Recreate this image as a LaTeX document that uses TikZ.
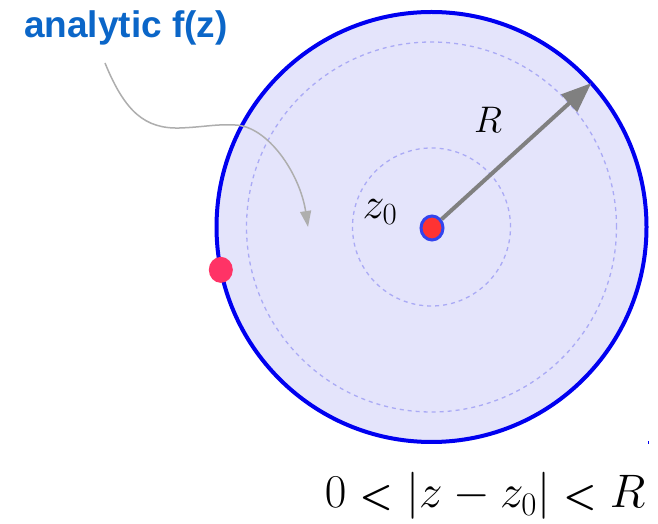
\RequirePackage{fix-cm}
\documentclass[tikz,border=0pt]{standalone}
\usepackage{amsmath,bm}
\usepackage{fontspec}
\newfontfamily\labelfont{Liberation Sans}
\usetikzlibrary{arrows.meta,shapes.geometric}
\definecolor{discfill}{HTML}{E4E4FB}
\definecolor{discblue}{HTML}{0000F0}
\definecolor{discring}{HTML}{3344EE}
\definecolor{discdash}{HTML}{AAAAF5}
\definecolor{discgray}{HTML}{808080}
\definecolor{disclabel}{HTML}{0B66C8}
\definecolor{discred}{HTML}{FF3333}
\definecolor{discpink}{HTML}{FF3366}
\definecolor{disccurve}{HTML}{AEAEAE}
\newcommand{\smallless}{\mathrel{\scalebox{.8}{$\bm{<}$}}}

\begin{document}
\begin{tikzpicture}[x=1pt,y=1pt,
  dashring/.style={draw=discdash,line width=1.3pt,dash pattern=on 4pt off 4pt},
  spot/.style={ellipse,inner sep=0pt,minimum width=24pt,minimum height=26pt},
  mathlab/.style={font=\fontsize{37}{40}\selectfont,inner sep=0pt},
  >={Triangle[length=30pt,width=23pt]}]
\useasboundingbox[fill=white] (0,0) rectangle (658,524);
\coordinate (c) at (431.5,297);
% disc and its rings
\draw[discblue,line width=4pt,fill=discfill] (c) circle[radius=215pt];
\draw[dashring] (c) circle[radius=185pt];
\draw[dashring] (c) circle[radius=79pt];
\path (c) ++(42:215pt) coordinate (rtip);
\path (c) ++(191.5:215pt) coordinate (edge);
% centre and radius
\node[spot,fill=discred,draw=discring,line width=3pt,minimum width=22pt,minimum height=24pt] (zdot) at (432,296) {};
\draw[discgray,line width=4pt,->] (zdot) -- (rtip);
\node[spot,fill=discpink] (edgedot) at (edge) {};
\node[mathlab] (rlab) at (488,404) {$R$};
\node[mathlab,font=\fontsize{44}{48}\selectfont] (zlab) at (380,312) {$z_0$};
% label and its pointer
\node[font=\labelfont\bfseries\fontsize{37}{40}\selectfont,text=disclabel,inner sep=0pt] (lbl) at (126,496) {analytic f(z)};
\coordinate (fzfrom) at (105,461);
\coordinate (fztip) at (308,297);
\draw[disccurve,line width=1.5pt,-{Triangle[length=16pt,width=11pt]}] (fzfrom)
  .. controls (125,412) and (145,395) .. (180,396)
  .. controls (205,397) and (215,400) .. (235,399)
  .. controls (268,398) and (300,350) .. (fztip);
% inequality
\node[anchor=base,inner sep=0pt,font=\fontsize{47}{56}\selectfont] (ineq) at (485,16)
  {$0\smallless\lvert z-z_0\rvert\smallless R$};
\fill[discblue] (647.5,80) rectangle (648.5,83);
\end{tikzpicture}
\end{document}
